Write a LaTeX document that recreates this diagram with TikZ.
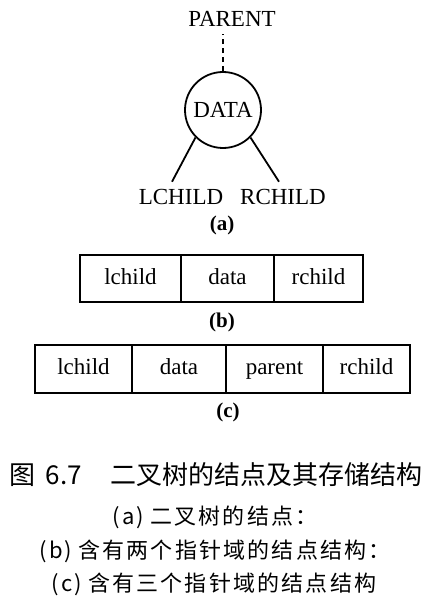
\documentclass[tikz,border=0pt]{standalone}
\usepackage{fontspec}
\setmainfont{Liberation Serif}
\newfontfamily\cjk{Noto Sans CJK SC}
\newfontfamily\cjkwide[LetterSpace=10]{Noto Sans CJK SC}
\usetikzlibrary{positioning}
\begin{document}
\begin{tikzpicture}[x=0.5pt, y=-0.5pt, line width=0.9pt,
  font=\fontsize{11.5}{13}\selectfont,
  level distance=43.5pt, sibling distance=51pt,
  cell/.style={draw=black, inner sep=0pt, outer sep=0pt, text height=8pt, text depth=2.5pt},
  tag/.style={font=\fontsize{10.5}{12}\selectfont\bfseries},
  captext/.style={font=\fontsize{11}{13}\selectfont\cjkwide}]
\useasboundingbox (0,0) rectangle (436,615);
% (a) the node of a binary tree
\node (parent) at (232,19) {PARENT};
\node [circle, draw=black, minimum size=38pt, inner sep=0pt] (data) at (223,110) {DATA}
  child [edge from parent path={(\tikzparentnode.south west) -- ([xshift=-4.5pt]\tikzchildnode.north)}] {
    node [xshift=4.5pt] (lchild) {LCHILD}
  }
  child [edge from parent path={(\tikzparentnode.south east) -- ([xshift=-2pt]\tikzchildnode.north)}] {
    node [xshift=4.5pt] (rchild) {RCHILD}
  };
\draw [dash pattern=on 2.5pt off 2pt] (data.north) -- (data |- parent.south);
\node [tag] (ta) at (222,225) {(a)};
% (b) two pointer fields
\node [cell, minimum width=50.5pt, minimum height=23.5pt] (bl) at (130.5,278.5) {lchild};
\node [cell, minimum width=46.5pt, minimum height=23.5pt, right=0pt of bl] (bd) {data};
\node [cell, minimum width=44.5pt, minimum height=23.5pt, right=0pt of bd] (br) {rchild};
\node [tag] (tb) at (222,322) {(b)};
% (c) three pointer fields
\node [cell, minimum width=48.5pt, minimum height=24pt] (cl) at (83.5,369) {lchild};
\node [cell, minimum width=47pt, minimum height=24pt, right=0pt of cl] (cd) {data};
\node [cell, minimum width=48.5pt, minimum height=24pt, right=0pt of cd] (cp) {parent};
\node [cell, minimum width=43.5pt, minimum height=24pt, right=0pt of cp] (cr) {rchild};
\node [tag] (tc) at (228,412) {(c)};
% caption
\node [font=\fontsize{13}{15}\selectfont\cjk] (title) at (216,475) {图\hspace{5pt}6.7\hspace{14pt}二叉树的结点及其存储结构};
\node [captext] (capa) at (215,517) {(a)\hspace{3pt}二叉树的结点：};
\node [captext] (capb) at (215,551) {(b)\hspace{3pt}含有两个指针域的结点结构：};
\node [captext] (capc) at (214,584) {(c)\hspace{3pt}含有三个指针域的结点结构};
\end{tikzpicture}
\end{document}
